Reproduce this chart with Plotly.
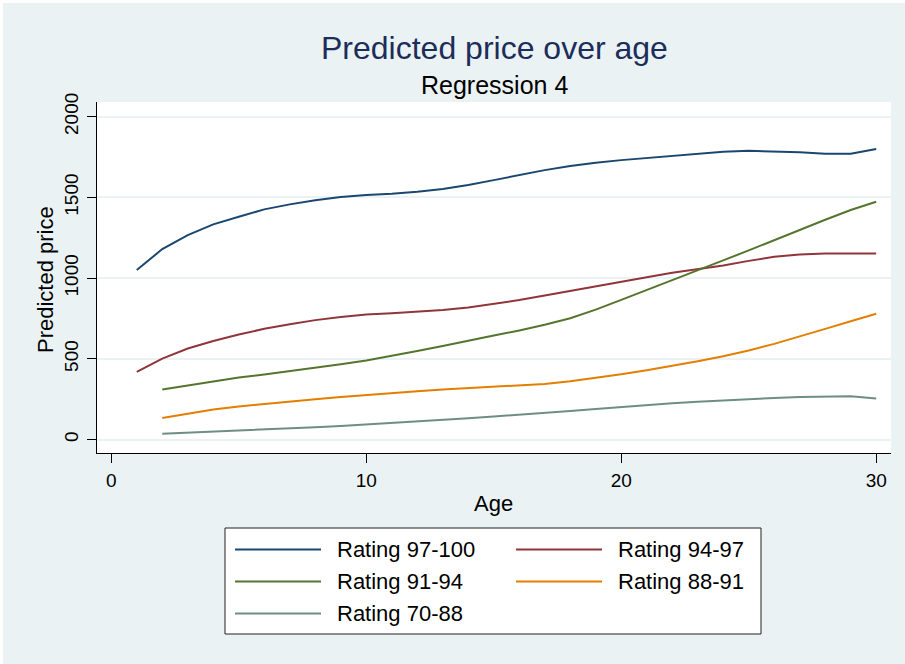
import plotly.graph_objects as go

# Predicted price by wine age for each rating band (regression 4)
age_full = list(range(1, 31))
age_from2 = list(range(2, 31))

price_97_100 = [1050, 1180, 1267, 1333, 1380, 1426, 1457, 1482, 1502, 1515,
                1523, 1535, 1552, 1577, 1607, 1638, 1669, 1694, 1715, 1731,
                1745, 1755, 1769, 1783, 1789, 1785, 1779, 1771, 1771, 1800]
price_94_97 = [419, 502, 564, 611, 651, 686, 715, 740, 760, 775,
               782, 791, 803, 818, 839, 864, 893, 922, 950, 978,
               1006, 1033, 1054, 1078, 1107, 1132, 1147, 1153, 1153, 1153]
price_91_94 = [310, 335, 361, 384, 403, 423, 444, 467, 490, 518,
               549, 580, 614, 645, 676, 711, 752, 805, 865, 925,
               988, 1048, 1110, 1172, 1236, 1300, 1362, 1422, 1473]
price_88_91 = [134, 161, 186, 205, 221, 236, 250, 264, 277, 287,
               299, 310, 318, 326, 335, 345, 361, 382, 405, 430,
               457, 485, 516, 552, 593, 638, 686, 733, 779]
price_70_88 = [37, 43, 50, 56, 62, 68, 76, 84, 93, 101,
               112, 122, 132, 143, 153, 165, 177, 190, 203, 215,
               225, 235, 244, 252, 258, 264, 268, 268, 254]

series_names = ["Rating 97-100", "Rating 94-97", "Rating 91-94", "Rating 88-91", "Rating 70-88"]
series_x = [age_full, age_full, age_from2, age_from2, age_from2]
series_y = [price_97_100, price_94_97, price_91_94, price_88_91, price_70_88]
series_colors = ["#1A476F", "#90353B", "#55752F", "#E37E00", "#6E8E84"]

x_ticks = [0, 10, 20, 30]
y_ticks = [0, 500, 1000, 1500, 2000]

W, H = 905, 664
ML, MR, MT, MB = 97, 14, 102, 211
PW, PH = W - ML - MR, H - MT - MB
BG = "#EAF2F3"
FONT = "Liberation Sans, Arial, sans-serif"


def px_x(px):
    return (px - ML) / PW


def px_y(py):
    return (H - MB - py) / PH


fig = go.Figure()
for name, xs, ys, col in zip(series_names, series_x, series_y, series_colors):
    fig.add_trace(go.Scatter(x=xs, y=ys, mode="lines", name=name,
                             line=dict(color=col, width=2), showlegend=False))

shapes = []
annotations = []

# thin white frame strip at the top and left edge
shapes.append(dict(type="rect", xref="paper", yref="paper", layer="above",
                   x0=px_x(0), x1=px_x(3), y0=px_y(H), y1=px_y(0),
                   fillcolor="white", line=dict(width=0)))
shapes.append(dict(type="rect", xref="paper", yref="paper", layer="above",
                   x0=px_x(0), x1=px_x(W), y0=px_y(3), y1=px_y(0),
                   fillcolor="white", line=dict(width=0)))

# legend box with two columns of keys
shapes.append(dict(type="rect", xref="paper", yref="paper", layer="above",
                   x0=px_x(225), x1=px_x(761), y0=px_y(634), y1=px_y(528),
                   fillcolor="white", line=dict(color="#222222", width=1)))
col_key = [(235, 321, 335), (516, 602, 616)]
row_y = [549.5, 581.5, 613.5]
for i, (name, col) in enumerate(zip(series_names, series_colors)):
    r, c = divmod(i, 2)
    kx0, kx1, tx = col_key[c]
    ky = row_y[r]
    shapes.append(dict(type="line", xref="paper", yref="paper", layer="above",
                       x0=px_x(kx0), x1=px_x(kx1), y0=px_y(ky), y1=px_y(ky),
                       line=dict(color=col, width=2)))
    annotations.append(dict(text=name, xref="paper", yref="paper",
                            x=px_x(tx), y=px_y(ky), xanchor="left", yanchor="middle",
                            showarrow=False, font=dict(family=FONT, size=22, color="black")))

# titles and axis titles
annotations.append(dict(text="Predicted price over age", xref="paper", yref="paper",
                        x=px_x(494), y=px_y(48), xanchor="center", yanchor="middle",
                        showarrow=False, font=dict(family=FONT, size=32, color="#1C2D5A")))
annotations.append(dict(text="Regression 4", xref="paper", yref="paper",
                        x=px_x(494), y=px_y(85), xanchor="center", yanchor="middle",
                        showarrow=False, font=dict(family=FONT, size=25, color="black")))
annotations.append(dict(text="Predicted price", xref="paper", yref="paper",
                        x=px_x(45), y=px_y(280), xanchor="center", yanchor="middle",
                        textangle=-90, showarrow=False,
                        font=dict(family=FONT, size=22, color="black")))
annotations.append(dict(text="Age", xref="paper", yref="paper",
                        x=px_x(493), y=px_y(503), xanchor="center", yanchor="middle",
                        showarrow=False, font=dict(family=FONT, size=22, color="black")))

fig.update_layout(
    width=W, height=H,
    margin=dict(l=ML, r=MR, t=MT, b=MB, pad=0),
    paper_bgcolor=BG, plot_bgcolor="white",
    shapes=shapes, annotations=annotations,
    showlegend=False,
    xaxis=dict(range=[-0.56, 30.58], tickvals=x_ticks, ticks="outside", ticklen=9,
               tickwidth=1.2, tickcolor="black", showline=True, linecolor="black",
               linewidth=1.2, showgrid=False, zeroline=False,
               ticklabelstandoff=1,
               tickfont=dict(family=FONT, size=19, color="black")),
    yaxis=dict(range=[-83, 2091], tickvals=y_ticks, ticks="outside", ticklen=9,
               tickwidth=1.2, tickcolor="black", showline=True, linecolor="black",
               linewidth=1.2, showgrid=True, gridcolor=BG, gridwidth=1.5, zeroline=False,
               tickangle=-90, ticklabelstandoff=1,
               tickfont=dict(family=FONT, size=19, color="black")),
)

fig.write_html("out.html")
